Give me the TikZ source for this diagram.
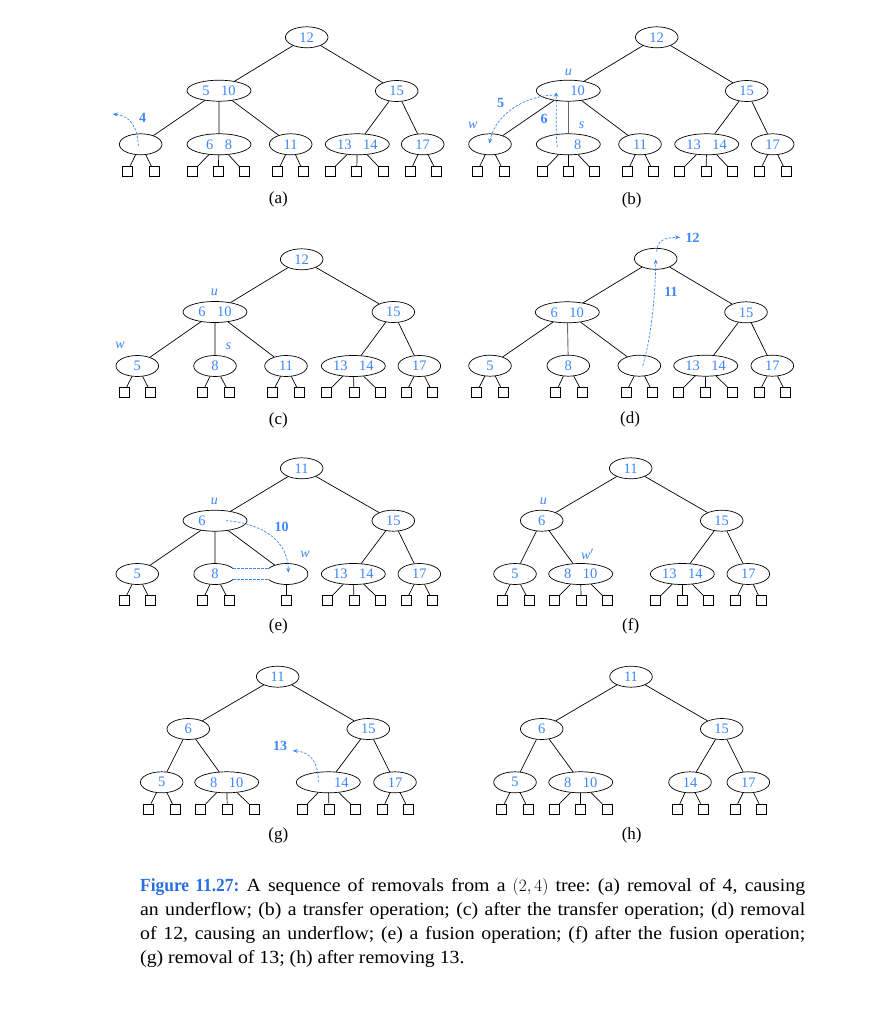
\documentclass[tikz,border=0pt]{standalone}
\usepackage{fontspec}
\setmainfont{Liberation Serif}
\newfontfamily\capfont[FakeStretch=1.07]{Liberation Serif}
\newfontface\capbold[FakeStretch=0.94]{Liberation Serif Bold}
\usetikzlibrary{shapes.geometric,arrows.meta}
\definecolor{keyblue}{RGB}{60,135,250}
\definecolor{capblue}{RGB}{40,110,230}
\newcommand\twokey[2]{#1\hspace{11.5pt}#2}
\begin{document}
\begin{tikzpicture}[x=1pt,y=-1pt,
  k1/.style={ellipse,draw,line width=0.7pt,minimum width=42.6pt,minimum height=21pt,inner sep=0pt,text=keyblue,font=\fontsize{14.5}{14.5}\selectfont},
  k2/.style={k1,minimum width=64pt},
  leaf/.style={rectangle,draw,line width=0.6pt,minimum size=10pt,inner sep=0pt},
  link/.style={line width=0.7pt},
  mv/.style={keyblue,line width=0.7pt,dash pattern=on 2.5pt off 1.5pt,-{Stealth[length=5pt,width=4pt]}},
  mvn/.style={keyblue,line width=0.7pt,dash pattern=on 2.5pt off 1.5pt},
  mlab/.style={text=keyblue,font=\bfseries\fontsize{14}{14}\selectfont,inner sep=0pt},
  vlab/.style={text=keyblue,font=\itshape\fontsize{14}{14}\selectfont,inner sep=0pt},
  plabel/.style={font=\fontsize{17}{17}\selectfont,inner sep=0pt}]
\fill[white] (0,0) rectangle (876,1024);
\useasboundingbox (0,0) rectangle (876,1024);

% ---------------- (a)
\node[k1] (a0) at (306.7,37.3) {12};
\node[k2] (a1) at (219,90.7) {\twokey{5}{10}};
\node[k1] (a2) at (396.7,91) {15};
\node[k1] (a3) at (140.7,144.3) {};
\node[k2] (a4) at (219,144.3) {\twokey{6}{8}};
\node[k1] (a5) at (290.7,144.3) {11};
\node[k2] (a6) at (357.3,144.3) {\twokey{13}{14}};
\node[k1] (a7) at (422.7,144.3) {17};
\draw[link] (a0)--(a1) (a0)--(a2) (a1)--(a3) (a1)--(a4) (a1)--(a5) (a2)--(a6) (a2)--(a7);
\foreach \x/\p [count=\i] in {127.3/a3,154/a3,192.3/a4,218.3/a4,244/a4,277.3/a5,303.3/a5,330/a6,356.7/a6,383.3/a6,410/a7,436.7/a7}
  {\node[leaf] (a-s\i) at (\x,171.7) {}; \draw[link] (\p)--(a-s\i);}
\coordinate (a4s) at (138.3,146);
\coordinate (a4e) at (112.7,114);
\draw[mv] (a4s) .. controls (137.5,126) and (130,116) .. (a4e);
\node[mlab] (a4l) at (142.7,118) {4};
\node[plabel] (al) at (278.3,199) {(a)};

% ---------------- (b)
\node[k1] (b0) at (656.7,37.3) {12};
\node[k2] (b1) at (568.3,90.7) {\twokey{\phantom{5}}{10}};
\node[k1] (b2) at (746.7,91) {15};
\node[k1] (b3) at (490,144.3) {};
\node[k2] (b4) at (568.3,144.3) {\twokey{\phantom{6}}{8}};
\node[k1] (b5) at (640,144.3) {11};
\node[k2] (b6) at (706.7,144.3) {\twokey{13}{14}};
\node[k1] (b7) at (772.7,144.3) {17};
\draw[link] (b0)--(b1) (b0)--(b2) (b1)--(b3) (b1)--(b5) (b2)--(b6) (b2)--(b7);
\draw[link,black!60,line width=0.9pt] (b1)--(b4);
\foreach \x/\p [count=\i] in {477.3/b3,504/b3,542.3/b4,568.3/b4,594/b4,627.3/b5,653.3/b5,679.3/b6,706/b6,732.7/b6,759.3/b7,786/b7}
  {\node[leaf] (b-s\i) at (\x,171.7) {}; \draw[link] (\p)--(b-s\i);}
\node[vlab] (bu) at (568.3,72.3) {u};
\node[vlab] (bw) at (472.7,125.7) {w};
\node[vlab] (bs) at (581.7,125.7) {s};
\coordinate (b6s) at (557.3,147);
\coordinate (b6e) at (556,92);
\draw[mv] (b6s) .. controls (555,130) and (557,110) .. (b6e);
\node[mlab] (b6l) at (544,119) {6};
\coordinate (b5s) at (556,95);
\coordinate (b5e) at (489.3,143.5);
\draw[mv] (b5s) .. controls (528,95) and (496,112) .. (b5e);
\node[mlab] (b5l) at (500.7,102.7) {5};
\node[plabel] (bl) at (631.7,200) {(b)};

% ---------------- (c)
\node[k1] (c0) at (301.7,259.3) {12};
\node[k2] (c1) at (215,312) {\twokey{6}{10}};
\node[k1] (c2) at (393.3,312) {15};
\node[k1] (c3) at (137.3,366) {5};
\node[k1] (c4) at (215,366) {8};
\node[k1] (c5) at (286,366) {11};
\node[k2] (c6) at (353.3,366) {\twokey{13}{14}};
\node[k1] (c7) at (419.3,366) {17};
\draw[link] (c0)--(c1) (c0)--(c2) (c1)--(c3) (c1)--(c4) (c1)--(c5) (c2)--(c6) (c2)--(c7);
\foreach \x/\p [count=\i] in {124/c3,150.7/c3,202.3/c4,229/c4,272.3/c5,299.3/c5,326.7/c6,354/c6,380/c6,406/c7,432.7/c7}
  {\node[leaf] (c-s\i) at (\x,392.3) {}; \draw[link] (\p)--(c-s\i);}
\node[vlab] (cu) at (214.3,292.7) {u};
\node[vlab] (cw) at (120,345.7) {w};
\node[vlab] (cs) at (228.3,346) {s};
\node[plabel] (cl) at (278.3,420.7) {(c)};

% ---------------- (d)
\node[k1] (d0) at (655.7,258.8) {};
\node[k2] (d1) at (567.3,312.3) {\twokey{6}{10}};
\node[k1] (d2) at (746,312.3) {15};
\node[k1] (d3) at (490,365.7) {5};
\node[k1] (d4) at (568.3,365.7) {8};
\node[k1] (d5) at (639.3,365.7) {};
\node[k2] (d6) at (705.7,365.7) {\twokey{13}{14}};
\node[k1] (d7) at (772.3,365.7) {17};
\draw[link] (d0)--(d1) (d0)--(d2) (d1)--(d3) (d1)--(d5) (d2)--(d6) (d2)--(d7);
\draw[link,black!60,line width=0.9pt] (d1)--(d4);
\foreach \x/\p [count=\i] in {476.7/d3,503.3/d3,555.7/d4,582.3/d4,626/d5,652.7/d5,678.7/d6,705.7/d6,732.7/d6,759/d7,785.7/d7}
  {\node[leaf] (d-s\i) at (\x,392.3) {}; \draw[link] (\p)--(d-s\i);}
\coordinate (d11s) at (642.7,365.7);
\coordinate (d11e) at (655.7,259.3);
\draw[mv] (d11s) .. controls (652,335) and (655.5,290) .. (d11e);
\node[mlab] (d11l) at (671,291.7) {11};
\coordinate (d12s) at (656.7,251.7);
\coordinate (d12e) at (680,237.3);
\draw[mv] (d12s) .. controls (657,241) and (664,237.5) .. (d12e);
\node[mlab] (d12l) at (692.7,238.3) {12};
\node[plabel] (dl) at (630,419.5) {(d)};

% ---------------- (e)
\node[k1] (e0) at (301.7,468.3) {11};
\node[k2] (e1) at (215,520.7) {\twokey{6}{\phantom{10}}};
\node[k1] (e2) at (393.3,520.7) {15};
\node[k1] (e3) at (137.3,574) {5};
\node[k1,draw=none] (e4) at (215,574) {8};
\node[k1,draw=none] (e5) at (286.7,574) {};
\node[k2] (e6) at (353.3,574) {\twokey{13}{14}};
\node[k1] (e7) at (419.3,574) {17};
\coordinate (e4t) at (233.1,568.5);
\coordinate (e4b) at (233.1,579.5);
\coordinate (e5t) at (268.6,568.5);
\coordinate (e5b) at (268.6,579.5);
\draw[line width=0.7pt] (e4t) arc[start angle=31.6,end angle=328.4,x radius=21.3pt,y radius=10.5pt];
\draw[line width=0.7pt] (e5t) arc[start angle=148.4,end angle=-148.4,x radius=21.3pt,y radius=10.5pt];
\draw[mvn] (e4t)--(e5t);
\draw[mvn] (e4b)--(e5b);
\draw[link] (e0)--(e1) (e0)--(e2) (e1)--(e3) (e1)--(e4) (e1)--(e5) (e2)--(e6) (e2)--(e7);
\foreach \x/\p [count=\i] in {124/e3,150.7/e3,202.3/e4,229/e4,286.7/e5,327.3/e6,354/e6,380.7/e6,406/e7,432.7/e7}
  {\node[leaf] (e-s\i) at (\x,600.7) {}; \draw[link] (\p)--(e-s\i);}
\node[vlab] (eu) at (214.3,501.7) {u};
\node[vlab] (ew) at (305,554) {w};
\coordinate (e10s) at (226,520.7);
\coordinate (e10e) at (288.3,572.7);
\draw[mv] (e10s) .. controls (252,522) and (288,535) .. (e10e);
\node[mlab] (e10l) at (281.7,526.7) {10};
\node[plabel] (el) at (278.3,626.7) {(e)};

% ---------------- (f)
\node[k1] (f0) at (630.7,468.3) {11};
\node[k1] (f1) at (541.7,520.7) {6};
\node[k1] (f2) at (721.7,520.7) {15};
\node[k1] (f3) at (515,574) {5};
\node[k2] (f4) at (580.7,574) {\twokey{8}{10}};
\node[k2] (f5) at (682.3,574) {\twokey{13}{14}};
\node[k1] (f6) at (748.3,574) {17};
\draw[link] (f0)--(f1) (f0)--(f2) (f1)--(f3) (f1)--(f4) (f2)--(f5) (f2)--(f6);
\foreach \x/\p [count=\i] in {502.3/f3,529/f3,554.3/f4,581/f4,607.7/f4,655.7/f5,682.3/f5,708.3/f5,735/f6,761/f6}
  {\node[leaf] (f-s\i) at (\x,600.7) {}; \draw[link] (\p)--(f-s\i);}
\node[vlab] (fu) at (543.3,501.7) {u};
\node[vlab] (fw) at (587.3,554) {w$'$};
\node[plabel] (fl) at (630.7,626.7) {(f)};

% ---------------- (g)
\node[k1] (g0) at (277.7,676.7) {11};
\node[k1] (g1) at (188.3,729) {6};
\node[k1] (g2) at (368.3,729) {15};
\node[k1] (g3) at (161.7,782.3) {5};
\node[k2] (g4) at (226.7,782.3) {\twokey{8}{10}};
\node[k2] (g5) at (328.3,782.3) {\twokey{\phantom{13}}{14}};
\node[k1] (g6) at (395,782.3) {17};
\draw[link] (g0)--(g1) (g0)--(g2) (g1)--(g3) (g1)--(g4) (g2)--(g5) (g2)--(g6);
\foreach \x/\p [count=\i] in {148.3/g3,175/g3,200.7/g4,227.3/g4,254/g4,302.3/g5,329/g5,355.7/g5,382.3/g6,408.3/g6}
  {\node[leaf] (g-s\i) at (\x,809) {}; \draw[link] (\p)--(g-s\i);}
\coordinate (g13s) at (318.3,782);
\coordinate (g13e) at (292.7,750.7);
\draw[mv] (g13s) .. controls (318.5,764) and (312,752) .. (g13e);
\node[mlab] (g13l) at (280,745.7) {13};
\node[plabel] (gl) at (278.3,835) {(g)};

% ---------------- (h)
\node[k1] (h0) at (631,676.7) {11};
\node[k1] (h1) at (541.7,729) {6};
\node[k1] (h2) at (721.7,729) {15};
\node[k1] (h3) at (515,782.3) {5};
\node[k2] (h4) at (580.7,782.3) {\twokey{8}{10}};
\node[k1] (h5) at (690,782.3) {14};
\node[k1] (h6) at (748.3,782.3) {17};
\draw[link] (h0)--(h1) (h0)--(h2) (h1)--(h3) (h1)--(h4) (h2)--(h5) (h2)--(h6);
\foreach \x/\p [count=\i] in {501.7/h3,528.3/h3,554/h4,580.7/h4,607.3/h4,677.3/h5,703.3/h5,735/h6,761.7/h6}
  {\node[leaf] (h-s\i) at (\x,809) {}; \draw[link] (\p)--(h-s\i);}
\node[plabel] (hl) at (631.7,835) {(h)};

% ---------------- caption
\node[anchor=north west,inner sep=0pt,text width=665pt,align=justify,
      font=\capfont\fontsize{18.5}{24}\selectfont] (cap) at (140,878)
 {\frenchspacing{\color{capblue}\capbold Figure 11.27:} A sequence of removals from a $(2,4)$ tree: (a) removal of 4, causing\linebreak
  an underflow; (b) a transfer operation; (c) after the transfer operation; (d) removal\linebreak
  of 12, causing an underflow; (e) a fusion operation; (f)~after the fusion operation;\linebreak
  (g) removal of 13; (h) after removing 13.};
\end{tikzpicture}
\end{document}
